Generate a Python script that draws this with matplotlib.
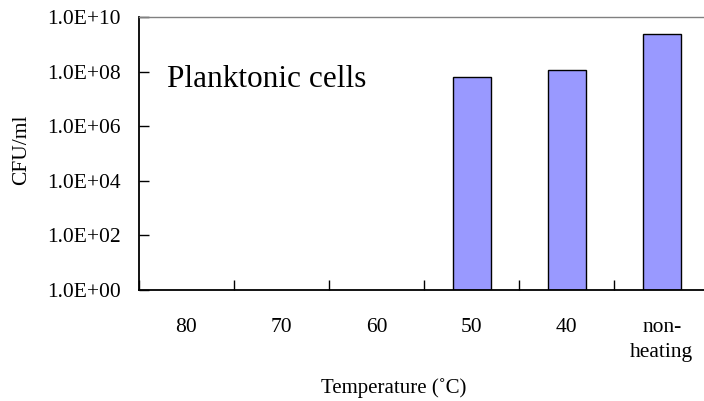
import numpy as np
import matplotlib
matplotlib.use("Agg")
import matplotlib.pyplot as plt
from matplotlib.ticker import FixedLocator, NullLocator, FuncFormatter

plt.rcParams["font.family"] = ["Liberation Serif", "DejaVu Serif"]

# viable counts after heat treatment (CFU/ml); nan = none detected
temps = ["80", "70", "60", "50", "40", "non-\nheating"]
cfu = [np.nan, np.nan, np.nan, 6.5e7, 1.15e8, 2.3e9]
yticks = [1e0, 1e2, 1e4, 1e6, 1e8, 1e10]

fig = plt.figure(figsize=(7.04, 4.01), dpi=100)
ax = fig.add_axes([0.1974, 0.2768, 0.81, 0.6808])

x = np.arange(len(temps))
ax.bar(x, cfu, width=0.4, bottom=1, color="#9999FF", edgecolor="black", linewidth=1.0)

ax.set_yscale("log")
ax.set_ylim(1, 1e10)
ax.set_xlim(-0.5, len(temps) - 0.5)
ax.yaxis.set_major_locator(FixedLocator(yticks))
ax.yaxis.set_minor_locator(NullLocator())
ax.yaxis.set_major_formatter(FuncFormatter(lambda v, _: f"{v:.1E}"))

# category labels in the middle, tick marks on the boundaries
ax.set_xticks(x)
ax.set_xticklabels(temps, fontsize=15.5, va="top", linespacing=1.45)
ax.set_xticks(np.arange(len(temps) + 1) - 0.5, minor=True)
ax.tick_params(axis="x", which="major", length=0, pad=20)
ax.tick_params(axis="x", which="minor", direction="in", length=7, width=1)
ax.tick_params(axis="y", which="major", direction="in", length=7, width=1, pad=13, labelsize=15.5)

for s in ("left", "bottom"):
    ax.spines[s].set_color("black")
    ax.spines[s].set_linewidth(1.3)
ax.spines["top"].set_color("#808080")
ax.spines["top"].set_linewidth(1.0)
ax.spines["right"].set_visible(False)

ax.text(0.049, 0.77, "Planktonic cells", transform=ax.transAxes, fontsize=22.5,
        ha="left", va="center")

fig.text(22 / 704, 1 - 150 / 401, "CFU/ml", rotation=90, fontsize=15.5, ha="center", va="center")
fig.text(394 / 704, 1 - 388 / 401, "Temperature (˚C)", fontsize=15, ha="center", va="center")

fig.savefig("out.png", dpi=100)
